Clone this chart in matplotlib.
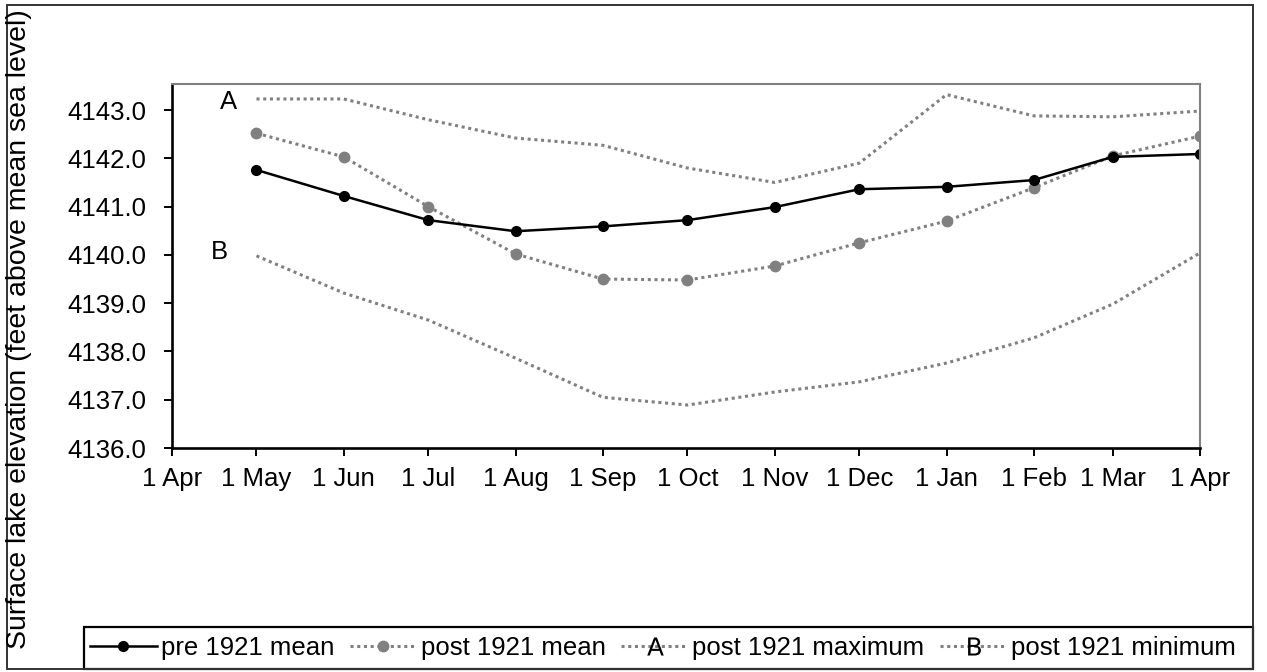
import matplotlib
matplotlib.use("Agg")
import matplotlib.pyplot as plt
from matplotlib.lines import Line2D
from matplotlib.patches import Rectangle

plt.rcParams['font.family'] = ['Liberation Sans', 'DejaVu Sans']

# ---- data ----
tick_days = [0, 30, 61, 91, 122, 153, 183, 214, 244, 275, 306, 334, 365]
tick_labels = ["1 Apr", "1 May", "1 Jun", "1 Jul", "1 Aug", "1 Sep", "1 Oct",
               "1 Nov", "1 Dec", "1 Jan", "1 Feb", "1 Mar", "1 Apr"]
point_days = [30, 61, 91, 122, 153, 183, 214, 244, 275, 306, 334, 365]
pre1921_mean = [4141.76, 4141.22, 4140.72, 4140.49, 4140.59, 4140.72,
                4140.99, 4141.36, 4141.41, 4141.55, 4142.03, 4142.09]
post1921_mean = [4142.52, 4142.03, 4141.00, 4140.02, 4139.50, 4139.48,
                 4139.77, 4140.25, 4140.70, 4141.39, 4142.05, 4142.46]
post1921_max = [4143.23, 4143.23, 4142.80, 4142.42, 4142.27, 4141.80,
                4141.50, 4141.90, 4143.32, 4142.88, 4142.86, 4142.98]
post1921_min = [4139.98, 4139.21, 4138.65, 4137.86, 4137.05, 4136.89,
                4137.16, 4137.37, 4137.76, 4138.28, 4138.98, 4140.04]
y_ticks = [4136.0, 4137.0, 4138.0, 4139.0, 4140.0, 4141.0, 4142.0, 4143.0]

W, H = 1267, 672
fig = plt.figure(figsize=(W / 100, H / 100), dpi=100)
ax = fig.add_axes([172 / W, 1 - 448 / H, (1200 - 172) / W, (448 - 84) / H])

GRAY = '#808080'
dot = (0, (1.0, 1.2))
FS = 18.5

ax.plot(point_days, post1921_max, color=GRAY, lw=2.2, ls=dot)
ax.plot(point_days, post1921_min, color=GRAY, lw=2.2, ls=dot)
ax.plot(point_days, post1921_mean, color=GRAY, lw=2.2, ls=dot,
        marker='o', ms=7.5, mfc=GRAY, mec=GRAY)
ax.plot(point_days, pre1921_mean, color='black', lw=1.8,
        marker='o', ms=7, mfc='black', mec='black')

ax.annotate('A', (point_days[0], post1921_max[0]), xytext=(-19, -3),
            textcoords='offset pixels', ha='right', va='center', fontsize=FS)
ax.annotate('B', (point_days[0], post1921_min[0]), xytext=(-28, 4),
            textcoords='offset pixels', ha='right', va='center', fontsize=FS)

ax.set_xlim(0, 365)
ax.set_ylim(4136.0, 4143.54)
ax.set_xticks(tick_days)
ax.set_xticklabels(tick_labels)
ax.set_yticks(y_ticks)
ax.set_yticklabels([f"{v:.1f}" for v in y_ticks])
ax.tick_params(axis='both', direction='out', length=5.8, width=1.4,
               labelsize=FS, colors='black')
ax.tick_params(axis='y', pad=13)
ax.tick_params(axis='x', pad=8)
for s in ['left', 'bottom']:
    ax.spines[s].set_color('black')
    ax.spines[s].set_linewidth(1.9)
for s in ['top', 'right']:
    ax.spines[s].set_color(GRAY)
    ax.spines[s].set_linewidth(1.5)

fig.text(19 / W, 1 - 329 / H, 'Surface lake elevation (feet above mean sea level)',
         rotation=90, ha='center', va='center', fontsize=20.5)

# legend
handles = [
    Line2D([], [], color='black', lw=1.8, marker='o', ms=7, mfc='black', mec='black'),
    Line2D([], [], color=GRAY, lw=2.2, ls=dot, marker='o', ms=7.5, mfc=GRAY, mec=GRAY),
    Line2D([], [], color=GRAY, lw=2.2, ls=dot, marker=r'$\mathsf{A}$', ms=13,
           mfc='black', mec='black', markeredgewidth=0),
    Line2D([], [], color=GRAY, lw=2.2, ls=dot, marker=r'$\mathsf{B}$', ms=13,
           mfc='black', mec='black', markeredgewidth=0),
]
labels = ['pre 1921 mean', 'post 1921 mean', 'post 1921 maximum', 'post 1921 minimum']
fig.legend(handles, labels, loc='center left',
           bbox_to_anchor=(90 / W, 1 - 648 / H), ncol=4, frameon=False,
           fontsize=FS, handlelength=2.6, handletextpad=0.15,
           columnspacing=0.62, borderaxespad=0, borderpad=0)

fig.add_artist(Rectangle((84 / W, 1 - 669 / H), (1253 - 84) / W, (669 - 627) / H,
                         transform=fig.transFigure, fill=False,
                         edgecolor='black', lw=1.6))
fig.add_artist(Rectangle((7 / W, 1 - 669 / H), (1253 - 7) / W, (669 - 5) / H,
                         transform=fig.transFigure, fill=False,
                         edgecolor='#333333', lw=1.4))

fig.savefig('out.png', dpi=100)
